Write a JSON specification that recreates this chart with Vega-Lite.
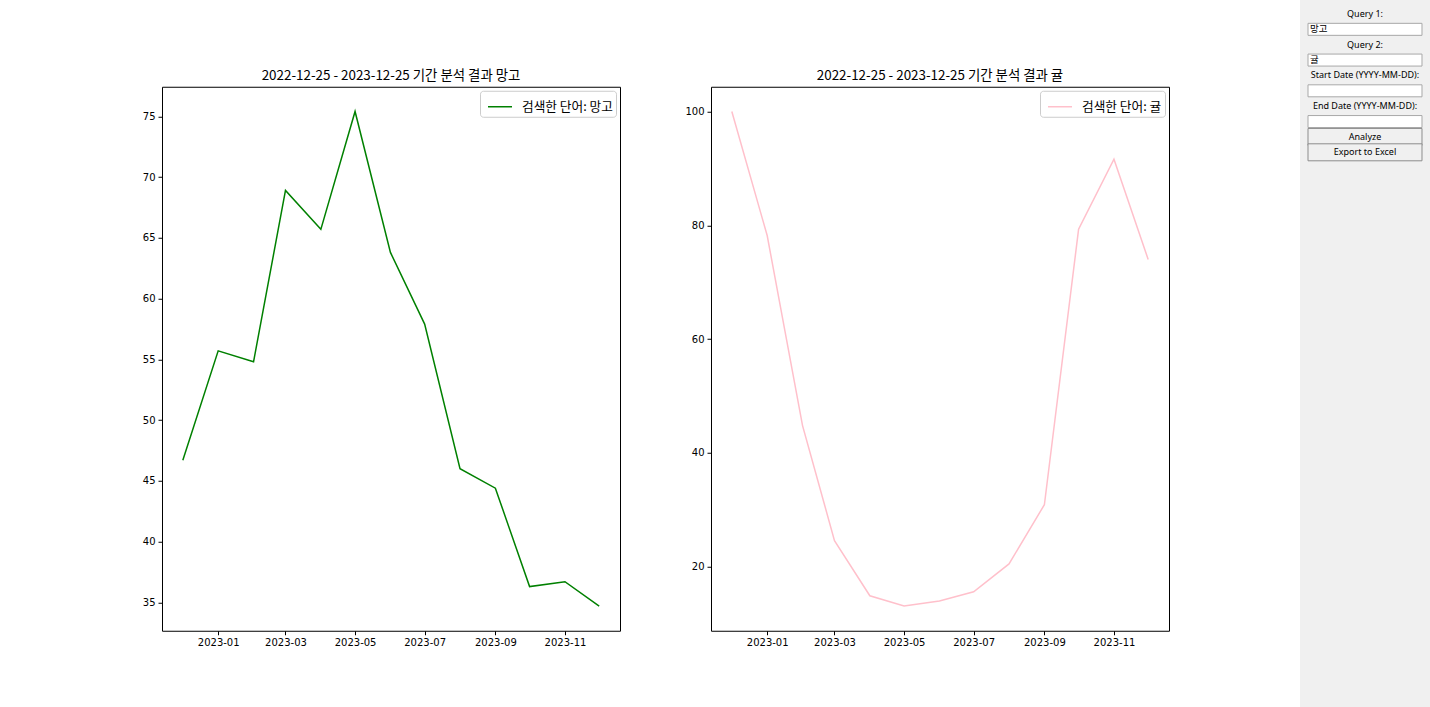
{
  "$schema": "https://vega.github.io/schema/vega-lite/v6.json",
  "background": "white",
  "padding": {"left": 141, "top": 0, "right": 0, "bottom": -28},
  "datasets": {
    "mango": [
      {"date": "2022-12-01", "value": 46.7, "series": "검색한 단어: 망고"},
      {"date": "2023-01-01", "value": 55.7, "series": "검색한 단어: 망고"},
      {"date": "2023-02-01", "value": 54.8, "series": "검색한 단어: 망고"},
      {"date": "2023-03-01", "value": 68.9, "series": "검색한 단어: 망고"},
      {"date": "2023-04-01", "value": 65.7, "series": "검색한 단어: 망고"},
      {"date": "2023-05-01", "value": 75.4, "series": "검색한 단어: 망고"},
      {"date": "2023-06-01", "value": 63.8, "series": "검색한 단어: 망고"},
      {"date": "2023-07-01", "value": 57.9, "series": "검색한 단어: 망고"},
      {"date": "2023-08-01", "value": 46.0, "series": "검색한 단어: 망고"},
      {"date": "2023-09-01", "value": 44.4, "series": "검색한 단어: 망고"},
      {"date": "2023-10-01", "value": 36.3, "series": "검색한 단어: 망고"},
      {"date": "2023-11-01", "value": 36.7, "series": "검색한 단어: 망고"},
      {"date": "2023-12-01", "value": 34.7, "series": "검색한 단어: 망고"}
    ],
    "gyul": [
      {"date": "2022-12-01", "value": 100.0, "series": "검색한 단어: 귤"},
      {"date": "2023-01-01", "value": 78.2, "series": "검색한 단어: 귤"},
      {"date": "2023-02-01", "value": 44.8, "series": "검색한 단어: 귤"},
      {"date": "2023-03-01", "value": 24.6, "series": "검색한 단어: 귤"},
      {"date": "2023-04-01", "value": 14.9, "series": "검색한 단어: 귤"},
      {"date": "2023-05-01", "value": 13.1, "series": "검색한 단어: 귤"},
      {"date": "2023-06-01", "value": 14.0, "series": "검색한 단어: 귤"},
      {"date": "2023-07-01", "value": 15.6, "series": "검색한 단어: 귤"},
      {"date": "2023-08-01", "value": 20.5, "series": "검색한 단어: 귤"},
      {"date": "2023-09-01", "value": 30.9, "series": "검색한 단어: 귤"},
      {"date": "2023-10-01", "value": 79.3, "series": "검색한 단어: 귤"},
      {"date": "2023-11-01", "value": 91.6, "series": "검색한 단어: 귤"},
      {"date": "2023-12-01", "value": 74.0, "series": "검색한 단어: 귤"}
    ],
    "sidebar": [
      {"slot": 1, "kind": "label", "text": "Query 1:"},
      {"slot": 2, "kind": "entry", "text": "망고"},
      {"slot": 3, "kind": "label", "text": "Query 2:"},
      {"slot": 4, "kind": "entry", "text": "귤"},
      {"slot": 5, "kind": "label", "text": "Start Date (YYYY-MM-DD):"},
      {"slot": 6, "kind": "entry", "text": ""},
      {"slot": 7, "kind": "label", "text": "End Date (YYYY-MM-DD):"},
      {"slot": 8, "kind": "entry", "text": ""},
      {"slot": 9, "kind": "button", "text": "Analyze"},
      {"slot": 10, "kind": "button", "text": "Export to Excel"}
    ]
  },
  "spacing": 130,
  "center": true,
  "hconcat": [
    {
      "spacing": 63,
      "resolve": {"scale": {"x": "independent", "y": "independent", "color": "independent"}, "legend": {"color": "independent"}},
      "hconcat": [
        {
          "width": 458,
          "height": 544,
          "title": "2022-12-25 - 2023-12-25 기간 분석 결과 망고",
          "data": {"name": "mango"},
          "mark": {"type": "line", "strokeWidth": 1.5},
          "encoding": {
            "x": {
              "field": "date", "type": "temporal",
              "scale": {"type": "utc", "nice": false, "domain": [{"year": 2022, "month": 11, "date": 12, "hours": 18, "utc": true}, {"year": 2023, "month": 12, "date": 19, "hours": 6, "utc": true}]},
              "axis": {"title": null, "format": "%Y-%m", "labelFlush": false, "values": [
                {"year": 2023, "month": 1, "date": 1, "utc": true},
                {"year": 2023, "month": 3, "date": 1, "utc": true},
                {"year": 2023, "month": 5, "date": 1, "utc": true},
                {"year": 2023, "month": 7, "date": 1, "utc": true},
                {"year": 2023, "month": 9, "date": 1, "utc": true},
                {"year": 2023, "month": 11, "date": 1, "utc": true}
              ]}
            },
            "y": {
              "field": "value", "type": "quantitative",
              "scale": {"domain": [32.665, 77.435], "nice": false, "zero": false},
              "axis": {"title": null, "values": [35, 40, 45, 50, 55, 60, 65, 70, 75]}
            },
            "color": {"field": "series", "type": "nominal", "scale": {"range": ["#008000"]}, "legend": {"title": null}}
          }
        },
        {
          "width": 458,
          "height": 544,
          "title": "2022-12-25 - 2023-12-25 기간 분석 결과 귤",
          "data": {"name": "gyul"},
          "mark": {"type": "line", "strokeWidth": 1.5},
          "encoding": {
            "x": {
              "field": "date", "type": "temporal",
              "scale": {"type": "utc", "nice": false, "domain": [{"year": 2022, "month": 11, "date": 12, "hours": 18, "utc": true}, {"year": 2023, "month": 12, "date": 19, "hours": 6, "utc": true}]},
              "axis": {"title": null, "format": "%Y-%m", "labelFlush": false, "values": [
                {"year": 2023, "month": 1, "date": 1, "utc": true},
                {"year": 2023, "month": 3, "date": 1, "utc": true},
                {"year": 2023, "month": 5, "date": 1, "utc": true},
                {"year": 2023, "month": 7, "date": 1, "utc": true},
                {"year": 2023, "month": 9, "date": 1, "utc": true},
                {"year": 2023, "month": 11, "date": 1, "utc": true}
              ]}
            },
            "y": {
              "field": "value", "type": "quantitative",
              "scale": {"domain": [8.755, 104.345], "nice": false, "zero": false},
              "axis": {"title": null, "values": [20, 40, 60, 80, 100]}
            },
            "color": {"field": "series", "type": "nominal", "scale": {"range": ["#ffc0cb"]}, "legend": {"title": null}}
          }
        }
      ]
    },
    {
      "width": 130,
      "height": 735,
      "view": {"fill": "#f0f0f0", "stroke": null},
      "data": {"name": "sidebar"},
      "encoding": {
        "y": {"field": "slot", "type": "ordinal", "scale": {"type": "band", "domain": [1,2,3,4,5,6,7,8,9,10,11,12,13,14,15,16,17,18,19,20,21,22,23,24,25,26,27,28,29,30,31,32,33,34,35,36,37,38,39,40,41,42,43,44,45,46,47], "paddingInner": 0, "paddingOuter": 0.408, "align": 0.5}, "axis": null},
        "x": {"datum": "sidebar", "type": "nominal", "scale": {"type": "band", "paddingInner": 0, "paddingOuter": 0.0702}, "axis": null}
      },
      "layer": [
        {
          "transform": [{"filter": "datum.kind === 'entry'"}],
          "mark": {"type": "rect", "fill": "white", "stroke": "#a8a8a8", "strokeWidth": 1, "height": 12}
        },
        {
          "transform": [{"filter": "datum.kind === 'button'"}],
          "mark": {"type": "rect", "fill": "#f0f0f0", "stroke": "#8c8c8c", "strokeWidth": 1, "height": 17}
        },
        {
          "transform": [{"filter": "datum.kind !== 'entry'"}],
          "mark": {"type": "text", "font": "Noto Sans", "fontSize": 9, "color": "black"},
          "encoding": {"text": {"field": "text"}}
        },
        {
          "transform": [{"filter": "datum.kind === 'entry'"}],
          "mark": {"type": "text", "font": "Noto Sans CJK KR", "fontSize": 9.5, "color": "black", "align": "left", "dx": 2},
          "encoding": {
            "text": {"field": "text"},
            "x": {"datum": "sidebar", "type": "nominal", "bandPosition": 0}
          }
        }
      ]
    }
  ],
  "config": {
    "view": {"stroke": "black", "strokeWidth": 1},
    "axis": {"domain": false, "grid": false, "tickColor": "black", "tickSize": 4, "tickWidth": 1, "labelColor": "black", "labelFont": "DejaVu Sans", "labelFontSize": 10, "labelPadding": 3},
    "title": {"font": "Noto Sans CJK KR", "fontSize": 13.4, "fontWeight": "normal", "color": "black", "anchor": "middle", "offset": 4},
    "legend": {"orient": "top-right", "offset": 4, "symbolType": "stroke", "symbolSize": 576, "symbolStrokeWidth": 1.5, "symbolOffset": 4, "labelFont": "Noto Sans CJK KR", "labelFontSize": 12.7, "labelColor": "black", "labelOffset": 9, "fillColor": "white", "strokeColor": "#cccccc", "cornerRadius": 3, "padding": 3}
  }
}
